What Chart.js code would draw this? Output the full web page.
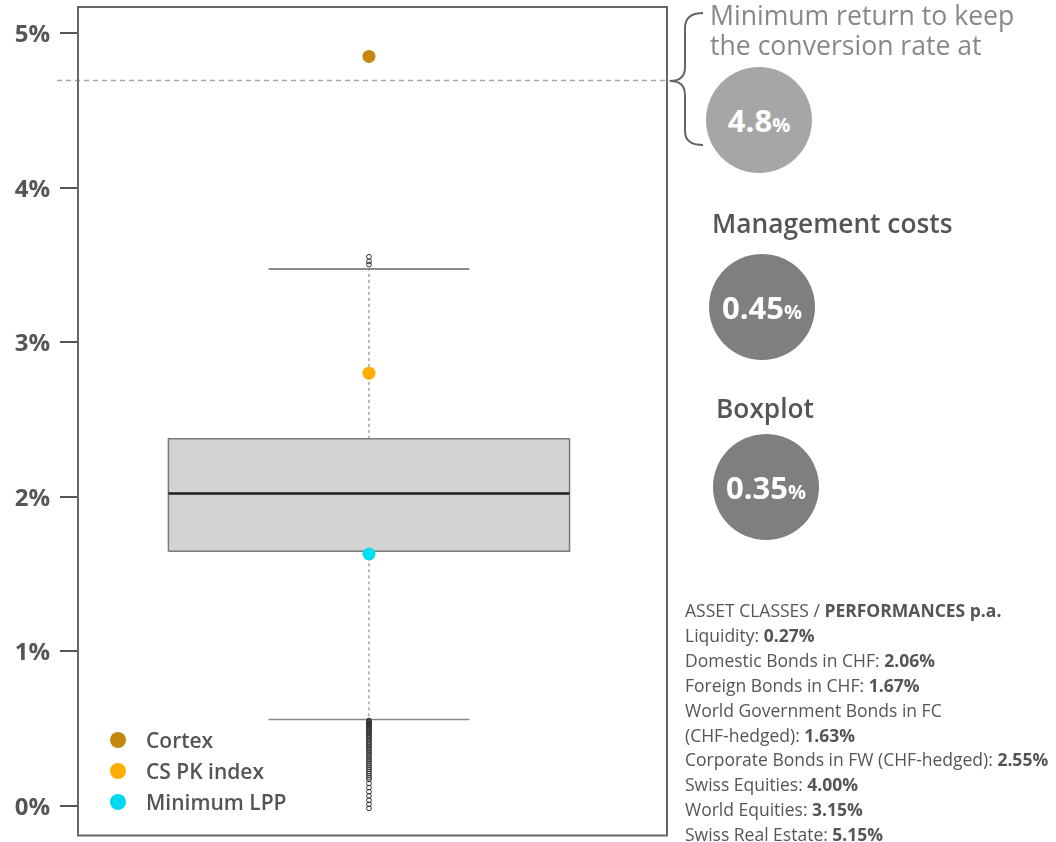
<!DOCTYPE html>
<html>
<head>
<meta charset="utf-8">
<script src="https://cdn.jsdelivr.net/npm/chart.js@4.4.1/dist/chart.umd.min.js"></script>
<style>
  html, body { margin: 0; padding: 0; background: #fff; }
  #wrap { position: relative; width: 1056px; height: 842px; font-family: "Open Sans", "DejaVu Sans", sans-serif; color: #555; }
  #c { position: absolute; left: 0; top: 0; }
  .abs { position: absolute; white-space: nowrap; }
  .legend-item { position: absolute; left: 110px; height: 24px; line-height: 24px; font-size: 21px; font-weight: 600; color: #555; white-space: nowrap; }
  .legend-item .dot { position: absolute; left: 0; top: 4px; width: 16px; height: 16px; border-radius: 50%; }
  .legend-item .lbl { position: absolute; left: 36px; top: 0; white-space: nowrap; }
  .circle { position: absolute; width: 106px; height: 106px; border-radius: 50%; color: #fff; font-weight: 700; text-align: center; line-height: 106px; font-size: 31px; white-space: nowrap; }
  .circle small { font-size: 20px; font-weight: 700; }
  .heading { font-size: 26.3px; font-weight: 600; color: #555; line-height: 30px; }
  #assets { position: absolute; left: 685px; top: 598px; font-size: 17.5px; line-height: 24.9px; color: #555; white-space: nowrap; }
  #assets b { font-weight: 700; }
</style>
</head>
<body>
<div id="wrap">
  <canvas id="c" width="1056" height="842"></canvas>

  <div class="legend-item" style="top:728px"><span class="dot" style="background:#c4880f"></span><span class="lbl" id="lg0"></span></div>
  <div class="legend-item" style="top:759px"><span class="dot" style="background:#ffad00"></span><span class="lbl" id="lg1"></span></div>
  <div class="legend-item" style="top:790px"><span class="dot" style="background:#00d8f0"></span><span class="lbl" id="lg2"></span></div>

  <svg class="abs" style="left:0;top:0" width="1056" height="842">
    <path d="M703,13 Q685,13 685,28 L685,67 Q685,81 670,81 Q685,81 685,95 L685,131 Q685,145 703,145" fill="none" stroke="#666" stroke-width="2"/>
  </svg>

  <div class="abs" style="left:710px;top:0px;font-size:26.6px;line-height:30px;color:#888;">Minimum return to keep<br>the conversion rate at</div>
  <div class="circle" id="c1" style="left:706px;top:67px;background:#a6a6a6;"></div>

  <div class="abs heading" style="left:712px;top:208px;">Management costs</div>
  <div class="circle" id="c2" style="left:709px;top:254px;background:#7f7f7f;"></div>

  <div class="abs heading" style="left:716px;top:393px;">Boxplot</div>
  <div class="circle" id="c3" style="left:713px;top:434px;background:#7f7f7f;"></div>

  <div id="assets"></div>
</div>

<script>
// ---------------- data ----------------
const seriesNames   = ['Cortex', 'CS PK index', 'Minimum LPP'];
const seriesValues  = [4.85, 2.80, 1.63];

const boxQ1 = 1.647;
const boxMedian = 2.022;
const boxQ3 = 2.375;
const whiskerLow = 0.559;
const whiskerHigh = 3.475;

const outliersHigh = [3.553, 3.523, 3.503];
const outliersLow = [0.552, 0.547, 0.541, 0.536, 0.531, 0.525, 0.519, 0.513, 0.507, 0.499,
                     0.491, 0.484, 0.476, 0.467, 0.459, 0.450, 0.441, 0.431, 0.422, 0.411,
                     0.401, 0.392, 0.381, 0.371, 0.359, 0.348, 0.336, 0.326, 0.313, 0.301,
                     0.290, 0.276, 0.263, 0.250, 0.237, 0.223, 0.210, 0.196, 0.183, 0.171,
                     0.145, 0.118, 0.092, 0.065, 0.036, 0.010, -0.016];

const thresholdValue = 4.70;
const yTickValues = [0, 1, 2, 3, 4, 5];

const panelLabels = ['4.8', '0.45', '0.35'];

const assetNames = ['Liquidity', 'Domestic Bonds in CHF', 'Foreign Bonds in CHF',
                    'World Government Bonds in FC<br>(CHF-hedged)', 'Corporate Bonds in FW (CHF-hedged)',
                    'Swiss Equities', 'World Equities', 'Swiss Real Estate'];
const assetPerf  = ['0.27%', '2.06%', '1.67%', '1.63%', '2.55%', '4.00%', '3.15%', '5.15%'];

// ---------------- layout / style ----------------
const seriesColors = ['#c4880f', '#ffad00', '#00e0f2'];
const boxCenter = -0.012;
const boxHalf = 0.681;
const capHalf = 0.341;

// ---------------- html texts ----------------
seriesNames.forEach((n, i) => { document.getElementById('lg' + i).textContent = n; });
['c1', 'c2', 'c3'].forEach((id, i) => {
  document.getElementById(id).innerHTML = panelLabels[i] + '<small>%</small>';
});
document.getElementById('assets').innerHTML =
  'ASSET CLASSES / <b>PERFORMANCES p.a.</b><br>' +
  assetNames.map((n, i) => n + ': <b>' + assetPerf[i] + '</b>').join('<br>');

// ---------------- chart ----------------
const seg = (x0, y0, x1, y1) => [{x: x0, y: y0}, {x: x1, y: y1}];
const common = { pointRadius: 0, tension: 0, fill: false };

const datasets = [
  ...seriesNames.map((n, i) => ({
    label: n, data: [{x: boxCenter, y: seriesValues[i]}], showLine: false,
    pointRadius: 6.5, pointHoverRadius: 6.5, pointBackgroundColor: seriesColors[i],
    pointBorderWidth: 0, order: 0
  })),
  { label: 'out', data: outliersHigh.concat(outliersLow).map(v => ({x: boxCenter, y: v})),
    showLine: false, pointRadius: 2.4, pointBackgroundColor: 'rgba(0,0,0,0)',
    pointBorderColor: '#333', pointBorderWidth: 1, order: 1 },
  { ...common, data: seg(boxCenter - boxHalf, boxMedian, boxCenter + boxHalf, boxMedian),
    borderColor: '#1e1e1e', borderWidth: 2.5, order: 2 },
  { ...common, data: [{x: boxCenter - boxHalf, y: boxQ1}, {x: boxCenter + boxHalf, y: boxQ1},
                      {x: boxCenter + boxHalf, y: boxQ3}, {x: boxCenter - boxHalf, y: boxQ3},
                      {x: boxCenter - boxHalf, y: boxQ1}],
    borderColor: '#7a7a7a', borderWidth: 1.5, order: 3 },
  { ...common, data: seg(boxCenter, boxQ3, boxCenter, whiskerHigh), borderColor: '#777',
    borderWidth: 1, borderDash: [3, 3], order: 4 },
  { ...common, data: seg(boxCenter, boxQ1, boxCenter, whiskerLow), borderColor: '#777',
    borderWidth: 1, borderDash: [3, 3], order: 4 },
  { ...common, data: seg(boxCenter - capHalf, whiskerHigh, boxCenter + capHalf, whiskerHigh),
    borderColor: '#666', borderWidth: 1.5, order: 5 },
  { ...common, data: seg(boxCenter - capHalf, whiskerLow, boxCenter + capHalf, whiskerLow),
    borderColor: '#888', borderWidth: 1.5, order: 5 },
  { ...common, data: seg(boxCenter - boxHalf, boxQ3, boxCenter + boxHalf, boxQ3),
    borderWidth: 0, borderColor: 'rgba(0,0,0,0)', fill: '+1', backgroundColor: '#d3d3d3', order: 8 },
  { ...common, data: seg(boxCenter - boxHalf, boxQ1, boxCenter + boxHalf, boxQ1),
    borderWidth: 0, borderColor: 'rgba(0,0,0,0)', order: 9 }
];

const framePlugin = {
  id: 'frame',
  beforeDatasetsDraw(chart) {
    const {ctx, chartArea: a, scales: {y}} = chart;
    ctx.save();
    const ty = Math.round(y.getPixelForValue(thresholdValue)) + 0.5;
    ctx.strokeStyle = '#a8a8a8';
    ctx.lineWidth = 1.5;
    ctx.setLineDash([5, 4]);
    ctx.beginPath();
    ctx.moveTo(a.left - 21, ty);
    ctx.lineTo(a.right + 4, ty);
    ctx.stroke();
    ctx.restore();
  },
  afterDraw(chart) {
    const {ctx, chartArea: a} = chart;
    ctx.save();
    ctx.strokeStyle = '#666';
    ctx.lineWidth = 2;
    ctx.strokeRect(a.left, a.top, a.right - a.left, a.bottom - a.top);
    ctx.restore();
  }
};

new Chart(document.getElementById('c'), {
  type: 'line',
  data: { datasets },
  options: {
    responsive: false,
    animation: false,
    devicePixelRatio: 1,
    layout: { padding: { left: 0, top: 7, right: 389, bottom: 4 } },
    plugins: { legend: { display: false }, tooltip: { enabled: false } },
    elements: { line: { tension: 0 } },
    scales: {
      x: { type: 'linear', min: -1, max: 1, display: false },
      y: {
        type: 'linear', min: -0.192, max: 5.17,
        afterBuildTicks: s => { s.ticks = yTickValues.map(v => ({ value: v })); },
        afterFit: s => { s.width = 78; s.paddingTop = 0; s.paddingBottom = 0; },
        ticks: {
          callback: v => v + '%',
          color: '#555',
          padding: 10,
          labelOffset: 2,
          font: { family: 'Open Sans', size: 24, weight: 'bold' }
        },
        grid: { drawOnChartArea: false, tickLength: 18, color: '#555', lineWidth: 2 },
        border: { display: false }
      }
    }
  },
  plugins: [framePlugin]
});
</script>
</body>
</html>
